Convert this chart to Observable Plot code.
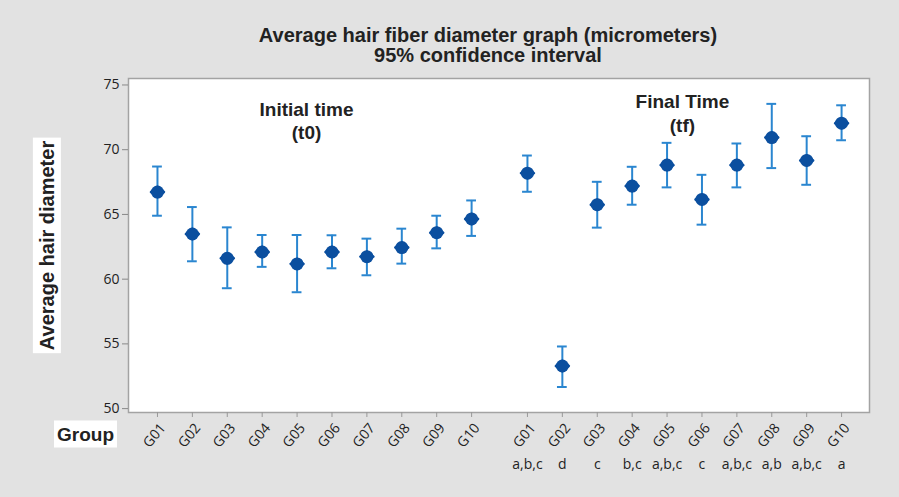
<!DOCTYPE html>
<html>
<head>
<meta charset="utf-8">
<script src="https://cdn.jsdelivr.net/npm/d3@7"></script>
<script src="https://cdn.jsdelivr.net/npm/@observablehq/plot@0.6"></script>
<style>
  html, body { margin: 0; padding: 0; background: #e2e2e2; }
  #chart { width: 899px; height: 497px; }
</style>
</head>
<body>
<div id="chart"></div>
<script>
// ---- data ----
const groups = ["G01", "G02", "G03", "G04", "G05", "G06", "G07", "G08", "G09", "G10"];
const t0Mean = [66.73, 63.49, 61.61, 62.10, 61.18, 62.10, 61.74, 62.44, 63.59, 64.65];
const t0Low  = [64.90, 61.38, 59.30, 60.95, 58.99, 60.84, 60.30, 61.20, 62.38, 63.34];
const t0High = [68.70, 65.57, 64.00, 63.41, 63.41, 63.39, 63.13, 63.90, 64.90, 66.08];
const tfMean = [68.19, 53.29, 65.75, 67.19, 68.81, 66.16, 68.81, 70.94, 69.17, 72.05];
const tfLow  = [66.75, 51.67, 63.98, 65.75, 67.09, 64.21, 67.09, 68.58, 67.29, 70.73];
const tfHigh = [69.55, 54.80, 67.52, 68.68, 70.53, 68.06, 70.48, 73.54, 71.04, 73.43];
const tfLetters = ["a,b,c", "d", "c", "b,c", "a,b,c", "c", "a,b,c", "a,b", "a,b,c", "a"];
const yTicks = [50, 55, 60, 65, 70, 75];
const titleLines = ["Average hair fiber diameter graph (micrometers)", "95% confidence interval"];
const yLabel = "Average hair diameter";
const xLabel = "Group";
const phaseLabels = ["Initial time\n(t0)", "Final Time\n(tf)"];
const phaseLabelX = [4.27, 15.04];   // in group-index units
const phaseLabelY = [72.3, 72.9];    // in micrometers

// ---- build table ----
const gapAfterT0 = 10.6; // tf groups start after a gap
const rows = [];
groups.forEach((g, i) => rows.push({group: g, phase: "t0", pos: i, mean: t0Mean[i], low: t0Low[i], high: t0High[i], letter: ""}));
groups.forEach((g, i) => rows.push({group: g, phase: "tf", pos: gapAfterT0 + i, mean: tfMean[i], low: tfLow[i], high: tfHigh[i], letter: tfLetters[i]}));
const tfRows = rows.filter(d => d.phase === "tf");
const labelByPos = new Map(rows.map(d => [d.pos, d.group]));
const phaseRows = phaseLabels.map((t, i) => ({text: t, x: phaseLabelX[i], y: phaseLabelY[i]}));

const markerColor = "#0b4f9f";
const barColor = "#2a86d0";
const capHalf = 0.14;
const boldFont = "'Liberation Sans', Arial, sans-serif";

const roundDiamond = {
  draw(context, size) {
    const r = Math.sqrt(size / Math.PI);
    context.moveTo(-r, 0);
    context.lineTo(0, -r * 0.8);
    context.lineTo(r, 0);
    context.lineTo(0, r * 0.8);
    context.closePath();
  }
};

const plot = Plot.plot({
  width: 899,
  height: 497,
  marginTop: 78,
  marginBottom: 85,
  marginLeft: 128,
  marginRight: 30,
  style: {background: "#e2e2e2", fontFamily: "'Open Sans', 'DejaVu Sans', sans-serif"},
  x: {type: "linear", domain: [-0.83, 20.4]},
  y: {domain: [49.7, 75.5]},
  marks: [
    Plot.frame({fill: "white", stroke: "#a3a3a3", strokeWidth: 1.5}),
    Plot.axisY({ticks: yTicks, tickSize: 6, tickPadding: 3, fontSize: 14, color: "#222", stroke: "#888", label: null}),
    Plot.axisX({ticks: rows.map(d => d.pos), tickFormat: p => labelByPos.get(p), tickSize: 5, stroke: "#999", text: null, label: null}),
    Plot.axisX({ticks: rows.map(d => d.pos), tickFormat: p => labelByPos.get(p), tickSize: 0, tickPadding: 23, dx: -3, tickRotate: -50, textAnchor: "middle", lineAnchor: "middle", fontSize: 14, fill: "#222", label: null}),
    Plot.ruleX(rows, {x: "pos", y1: "low", y2: "high", stroke: barColor, strokeWidth: 2}),
    Plot.ruleY(rows, {y: "low", x1: d => d.pos - capHalf, x2: d => d.pos + capHalf, stroke: barColor, strokeWidth: 2}),
    Plot.ruleY(rows, {y: "high", x1: d => d.pos - capHalf, x2: d => d.pos + capHalf, stroke: barColor, strokeWidth: 2}),
    Plot.dot(rows, {x: "pos", y: "mean", symbol: roundDiamond, r: 6.5, fill: markerColor, stroke: markerColor, strokeWidth: 2.5, strokeLinejoin: "round"}),
    Plot.dot(rows, {x: "pos", y: "mean", r: 6.5, fill: markerColor}),
    Plot.text(phaseRows, {x: "x", y: "y", text: "text", fontSize: 19, fontWeight: "bold", lineHeight: 1.25, fill: "#222", fontFamily: boldFont}),
    Plot.text(tfRows, {x: "pos", text: "letter", frameAnchor: "bottom", dy: 56, fontSize: 14, fill: "#222"}),
    Plot.text([titleLines[0]], {frameAnchor: "top", dx: -11, dy: -51, fontSize: 20, fontWeight: "bold", fill: "#222", fontFamily: boldFont}),
    Plot.text([titleLines[1]], {frameAnchor: "top", dx: -11, dy: -31, fontSize: 20, fontWeight: "bold", fill: "#222", fontFamily: boldFont}),
    Plot.text([yLabel], {frameAnchor: "left", textAnchor: "middle", dx: -81, rotate: -90, fontSize: 20, fontWeight: "bold", fill: "#222", fontFamily: boldFont}),
    Plot.text([xLabel], {frameAnchor: "bottom-left", textAnchor: "middle", dx: -43, dy: 28, fontSize: 19, fontWeight: "bold", fill: "#222", fontFamily: boldFont})
  ]
});
document.getElementById("chart").appendChild(plot);

// white label boxes behind axis titles
plot.querySelectorAll("text").forEach(t => {
  const s = t.textContent;
  if (s === yLabel || s === xLabel) {
    const b = t.getBBox();
    const m = t.getCTM();
    const pad = 3;
    const inv = plot.getScreenCTM().inverse();
    const pts = [[b.x, b.y], [b.x + b.width, b.y], [b.x, b.y + b.height], [b.x + b.width, b.y + b.height]].map(([x, y]) => {
      const p = plot.createSVGPoint(); p.x = x; p.y = y;
      return p.matrixTransform(m).matrixTransform(inv);
    });
    const xs = pts.map(p => p.x), ys = pts.map(p => p.y);
    const r = document.createElementNS("http://www.w3.org/2000/svg", "rect");
    r.setAttribute("x", Math.min(...xs) - pad);
    r.setAttribute("y", Math.min(...ys) - pad);
    r.setAttribute("width", Math.max(...xs) - Math.min(...xs) + 2 * pad);
    r.setAttribute("height", Math.max(...ys) - Math.min(...ys) + 2 * pad);
    r.setAttribute("fill", "white");
    const g = t.closest("g") || t.parentNode;
    g.parentNode.insertBefore(r, g);
  }
});
</script>
</body>
</html>
